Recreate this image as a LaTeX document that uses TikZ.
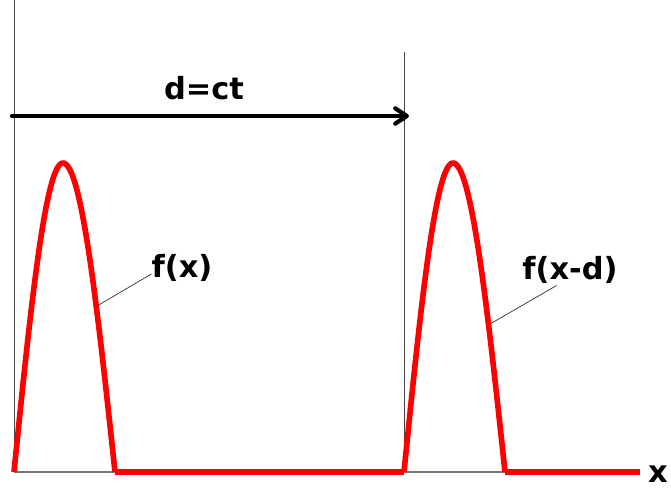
\documentclass[tikz,border=0pt]{standalone}
\usepackage{fontspec}
\setmainfont{DejaVu Sans}
\usetikzlibrary{arrows.meta,positioning}
\definecolor{pulseRed}{HTML}{FF0000}
\definecolor{frameGray}{HTML}{444444}
\definecolor{axisGray}{HTML}{777777}

\tikzset{
  pulse/.style={draw=pulseRed, line width=4.8pt, line join=round},
  marker/.style={draw=frameGray, line width=0.8pt},
  leader/.style={draw=black!80, line width=0.6pt},
  label/.style={font=\bfseries\fontsize{26}{26}\selectfont, inner sep=0pt}
}

\begin{document}
\begin{tikzpicture}[x=0.03cm, y=-0.03cm]
  \useasboundingbox (0,0) rectangle (671,490);
  % vertical markers and axis
  \coordinate (startTop) at (14,0);
  \coordinate (startBot) at (14,472);
  \coordinate (shiftTop) at (404,52);
  \coordinate (shiftBot) at (404,472);
  \coordinate (axisEnd) at (640,472);
  \draw[marker] (startTop) -- (startBot);
  \draw[marker] (shiftTop) -- (shiftBot);
  \draw[draw=axisGray, line width=0.9pt] (startBot) -- (axisEnd);
  \node[label, anchor=west] (xlabel) at (648,474) {x};
  % travel distance
  \coordinate (arrowStart) at (12,116);
  \coordinate (arrowEnd) at (409,116);
  \draw[line width=3.6pt, line cap=round, -{Straight Barb[length=3.5mm, width=4.6mm, round]}] (arrowStart) -- (arrowEnd);
  \node[label] (dist) at (204,88) {d=ct};
  % the two pulses
  \foreach \s in {0,390} {
    \draw[pulse] plot[domain=0:1, samples=40] ({14+\s+49*\x}, {472-309*sin(90*\x)})
      -- plot[domain=0:1, samples=40] ({63+\s+52*\x}, {472-309*cos(90*\x)});
  }
  \draw[pulse] (115,472) -- (shiftBot);
  \draw[pulse] (505,472) -- (axisEnd);
  % labels with leaders
  \coordinate (footA) at (97,306);
  \coordinate (footB) at (490,324);
  \node[label] (fx) at (182,268) {f(x)};
  \node[label] (fxd) at (570,270) {f(x-d)};
  \draw[leader] (footA) -- ([yshift=-0.18cm]fx.west);
  \draw[leader] (footB) -- ([xshift=-0.4cm, yshift=-0.05cm]fxd.south);
\end{tikzpicture}
\end{document}
